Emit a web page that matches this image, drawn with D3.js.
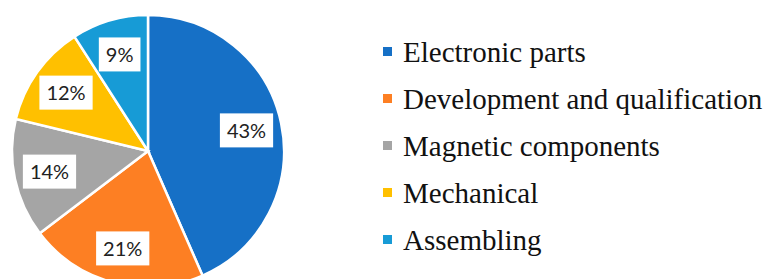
<!DOCTYPE html>
<html>
<head>
<meta charset="utf-8">
<script src="https://cdn.jsdelivr.net/npm/d3@7"></script>
<style>
  body { margin: 0; background: #fff; }
  svg { display: block; }
  .legend text { font-family: "Liberation Serif", "Times New Roman", serif; font-size: 29px; fill: #111; }
  .label text { font-family: Lato, "Open Sans", sans-serif; font-size: 20px; fill: #222; }
</style>
</head>
<body>
<svg width="766" height="279"></svg>
<script>
var categories = ['Electronic parts', 'Development and qualification', 'Magnetic components', 'Mechanical', 'Assembling'];
var shares = [43, 21, 14, 12, 9];
var colors = ['#1670c6', '#fd7f23', '#a5a5a5', '#ffc000', '#179bd6'];

var svg = d3.select('svg');
var cx = 148, cy = 151, radius = 136;

var data = categories.map(function(c, i) {
  return {name: c, value: shares[i], color: colors[i]};
});

var pie = d3.pie()
  .sort(null)
  .value(function(d) { return d.value; });

var arc = d3.arc().innerRadius(0).outerRadius(radius);
var labelArc = d3.arc().innerRadius(radius * 0.74).outerRadius(radius * 0.74);

var g = svg.append('g').attr('transform', 'translate(' + cx + ',' + cy + ')');

// slices
g.selectAll('path.slice')
  .data(pie(data))
  .enter()
    .append('path')
    .classed('slice', true)
    .attr('d', arc)
    .attr('fill', function(d) { return d.data.color; })
    .attr('stroke', '#fff')
    .attr('stroke-width', 2.5);

// percentage labels in white boxes
var labels = g.selectAll('g.label')
  .data(pie(data))
  .enter()
    .append('g')
    .classed('label', true)
    .attr('transform', function(d) {
      var c = labelArc.centroid(d);
      return 'translate(' + c[0] + ',' + c[1] + ')';
    });

var rects = labels.append('rect').attr('fill', '#fff');
var texts = labels.append('text')
  .attr('text-anchor', 'middle')
  .attr('dy', '0.36em')
  .text(function(d) { return d.data.value + '%'; });

texts.each(function(d, i) {
  var w = this.getComputedTextLength();
  d3.select(rects.nodes()[i])
    .attr('x', -w / 2 - 7)
    .attr('y', -17)
    .attr('width', w + 14)
    .attr('height', 34);
});

// legend
var legend = svg.append('g').classed('legend', true)
  .attr('transform', 'translate(383,52)');

var rows = legend.selectAll('g.row')
  .data(data)
  .enter()
    .append('g')
    .classed('row', true)
    .attr('transform', function(d, i) { return 'translate(0,' + (i * 47) + ')'; });

rows.append('rect')
  .attr('x', 0)
  .attr('y', -5)
  .attr('width', 9)
  .attr('height', 9)
  .attr('fill', function(d) { return d.color; });

rows.append('text')
  .attr('x', 20)
  .attr('dy', '0.33em')
  .text(function(d) { return d.name; });
</script>
</body>
</html>
